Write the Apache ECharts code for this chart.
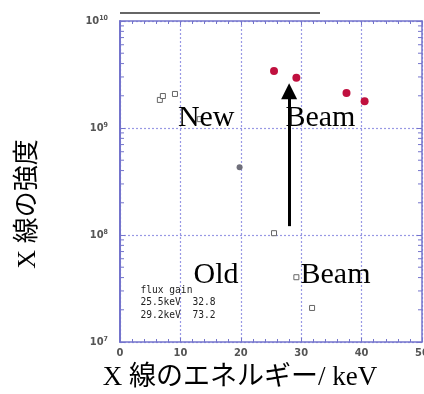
<!DOCTYPE html>
<html>
<head>
<meta charset="utf-8">
<script src="https://cdn.jsdelivr.net/npm/echarts@6/dist/echarts.min.js"></script>
<style>
  html, body { margin: 0; padding: 0; background: #fff; }
  #chart { width: 424px; height: 394px; }
</style>
</head>
<body>
<div id="chart"></div>
<script>
// X-ray intensity vs. photon energy: new beam (red) and old beam (grey)
const newBeamEnergy = [25.5, 29.2, 37.5, 40.5];
const newBeamFlux   = [3.41e9, 2.95e9, 2.12e9, 1.78e9];

const oldBeamEnergy = [6.6, 7.1, 9.1, 13.2, 25.5, 29.2, 31.8];
const oldBeamFlux   = [1.83e9, 1.99e9, 2.08e9, 1.21e9, 1.04e8, 4.03e7, 2.08e7];

const refEnergy = [19.8];
const refFlux   = [4.3e8];

// upward arrow from the old-beam level to the new-beam level
const arrowEnergy = 28.0;
const arrowFrom   = 1.21e8;
const arrowTo     = 2.2e9;

// in-plot labels: [text, energy, intensity]
const labelText   = ['New', 'Beam', 'Old', 'Beam'];
const labelEnergy = [9.5, 27.3, 12.1, 29.8];
const labelFlux   = [1.24e9, 1.24e9, 4.23e7, 4.23e7];

const gainEnergy = ['25.5keV', '29.2keV'];
const gainValue  = ['32.8', '73.2'];
const gainAnchor = [3.3, 2.33e7];

const xMin = 0, xMax = 50, xStep = 10;
const yMin = 1e7, yMax = 1e10;
const yDecades = [7, 8, 9];
const yMinorMantissa = [2, 3, 4, 5, 6, 7, 8, 9];

const axisColor = '#7474cc';
const gridColor = '#9898e4';
const tickLabelColor = '#555';

const yMinorTicks = [];
yDecades.forEach(d => yMinorMantissa.forEach(m => yMinorTicks.push([xMin, m * Math.pow(10, d)])));

const chart = echarts.init(document.getElementById('chart'), null, { renderer: 'canvas' });

const gainLines = ['flux gain'].concat(gainEnergy.map((e, i) => e + '  ' + gainValue[i]));

chart.setOption({
  animation: false,
  backgroundColor: '#fff',
  grid: { left: 120, right: 2, top: 21, bottom: 52, containLabel: false, outerBoundsMode: 'none' },
  xAxis: [
    {
      type: 'value', min: xMin, max: xMax, interval: xStep, position: 'bottom',
      axisLine: { show: true, onZero: false, lineStyle: { color: axisColor, width: 1.5 } },
      axisTick: { show: true, inside: true, length: 4, lineStyle: { color: axisColor } },
      minorTick: { show: true, splitNumber: 5, length: 3, lineStyle: { color: axisColor } },
      axisLabel: {
        color: tickLabelColor, fontSize: 11, fontWeight: 'bold', margin: 6,
        fontFamily: '"Liberation Sans Narrow", "DejaVu Sans Condensed", sans-serif'
      },
      splitLine: { show: true, lineStyle: { color: gridColor, type: [2, 2], width: 1.2 } },
      minorSplitLine: { show: false }
    },
    {
      type: 'value', min: xMin, max: xMax, interval: xStep, position: 'top',
      axisLine: { show: true, onZero: false, lineStyle: { color: axisColor, width: 1.5 } },
      axisTick: { show: true, inside: true, length: 4, lineStyle: { color: axisColor } },
      minorTick: { show: true, splitNumber: 5, length: 3, lineStyle: { color: axisColor } },
      axisLabel: { show: false },
      splitLine: { show: false }
    }
  ],
  yAxis: [
    {
      type: 'log', logBase: 10, min: yMin, max: yMax, position: 'left',
      axisLine: { show: true, onZero: false, lineStyle: { color: axisColor, width: 2 } },
      axisTick: { show: true, inside: true, length: 5, lineStyle: { color: axisColor } },
      minorTick: { show: false },
      axisLabel: {
        margin: 12,
        formatter: v => '{b|10}{s|' + Math.round(Math.log10(v)) + '}',
        rich: {
          b: { color: tickLabelColor, fontSize: 11, fontWeight: 'bold',
               fontFamily: '"Liberation Sans Narrow", "DejaVu Sans Condensed", sans-serif' },
          s: { color: tickLabelColor, fontSize: 7, fontWeight: 'bold', verticalAlign: 'bottom', padding: [0, 0, 6, 0],
               fontFamily: '"Liberation Sans Narrow", "DejaVu Sans Condensed", sans-serif' }
        }
      },
      splitLine: { show: true, lineStyle: { color: gridColor, type: [2, 2], width: 1.2 } }
    },
    {
      type: 'log', logBase: 10, min: yMin, max: yMax, position: 'right',
      axisLine: { show: true, onZero: false, lineStyle: { color: axisColor, width: 1.5 } },
      axisTick: { show: true, inside: true, length: 5, lineStyle: { color: axisColor } },
      axisLabel: { show: false },
      splitLine: { show: false }
    }
  ],
  graphic: [
    { type: 'line', shape: { x1: 120, y1: 13, x2: 320, y2: 13 }, style: { stroke: '#333', lineWidth: 1.5 }, silent: true },
    {
      type: 'text', x: 240, y: 378, silent: true,
      style: { text: 'X 線のエネルギー/ keV', fill: '#000', align: 'center', verticalAlign: 'middle',
               font: '27px "Liberation Serif", "Noto Sans CJK JP", serif' }
    },
    {
      type: 'text', x: 28, y: 204, rotation: Math.PI / 2, silent: true,
      style: { text: 'X 線の強度', fill: '#000', align: 'center', verticalAlign: 'middle',
               font: '26px "Liberation Serif", "Noto Sans CJK JP", serif' }
    }
  ],
  series: [
    {
      // minor log ticks on the left and right frame
      type: 'custom', silent: true, z: 3,
      data: yMinorTicks,
      renderItem: (params, api) => {
        const v = api.value(1);
        const a = api.coord([xMin, v]);
        const b = api.coord([xMax, v]);
        return {
          type: 'group',
          children: [
            { type: 'line', shape: { x1: a[0], y1: a[1], x2: a[0] + 4, y2: a[1] }, style: { stroke: axisColor, lineWidth: 1 } },
            { type: 'line', shape: { x1: b[0] - 4, y1: b[1], x2: b[0], y2: b[1] }, style: { stroke: axisColor, lineWidth: 1 } }
          ]
        };
      }
    },
    {
      name: 'Old beam', type: 'scatter', symbol: 'rect', symbolSize: 5, z: 4,
      itemStyle: { color: '#fff', borderColor: '#666', borderWidth: 1, opacity: 1 },
      data: oldBeamEnergy.map((e, i) => [e, oldBeamFlux[i]])
    },
    {
      name: 'Reference', type: 'scatter', symbol: 'circle', symbolSize: 6, z: 4,
      itemStyle: { color: '#6f6f7a', opacity: 1 },
      data: refEnergy.map((e, i) => [e, refFlux[i]])
    },
    {
      name: 'New beam', type: 'scatter', symbol: 'circle', symbolSize: 8, z: 4,
      itemStyle: { color: '#c0103f', opacity: 1 },
      data: newBeamEnergy.map((e, i) => [e, newBeamFlux[i]])
    },
    {
      name: 'Arrow', type: 'line', z: 5, silent: true,
      symbol: 'none', data: [],
      markLine: {
        silent: true, symbol: ['none', 'triangle'], symbolSize: 16,
        label: { show: false },
        itemStyle: { color: '#000' },
        lineStyle: { color: '#000', width: 3, type: 'solid' },
        emphasis: { disabled: true },
        animation: false,
        data: [[{ coord: [arrowEnergy, arrowFrom] }, { coord: [arrowEnergy, arrowTo] }]]
      }
    },
    {
      name: 'Labels', type: 'scatter', symbolSize: 1, z: 6, silent: true,
      itemStyle: { color: 'rgba(0,0,0,0)', opacity: 1 },
      label: {
        show: true, position: 'right', distance: 0, formatter: p => p.name,
        color: '#000', fontSize: 30, fontFamily: '"Liberation Serif", serif'
      },
      data: labelText.map((t, i) => ({ name: t, value: [labelEnergy[i], labelFlux[i]] }))
    },
    {
      name: 'Gain', type: 'scatter', symbolSize: 1, z: 6, silent: true,
      itemStyle: { color: 'rgba(0,0,0,0)', opacity: 1 },
      label: {
        show: true, position: 'right', distance: 0, formatter: gainLines.join('\n'),
        color: '#222', fontSize: 9.6, lineHeight: 12.5, align: 'left',
        fontFamily: '"DejaVu Sans Mono", monospace'
      },
      data: [gainAnchor]
    }
  ]
});
</script>
</body>
</html>
